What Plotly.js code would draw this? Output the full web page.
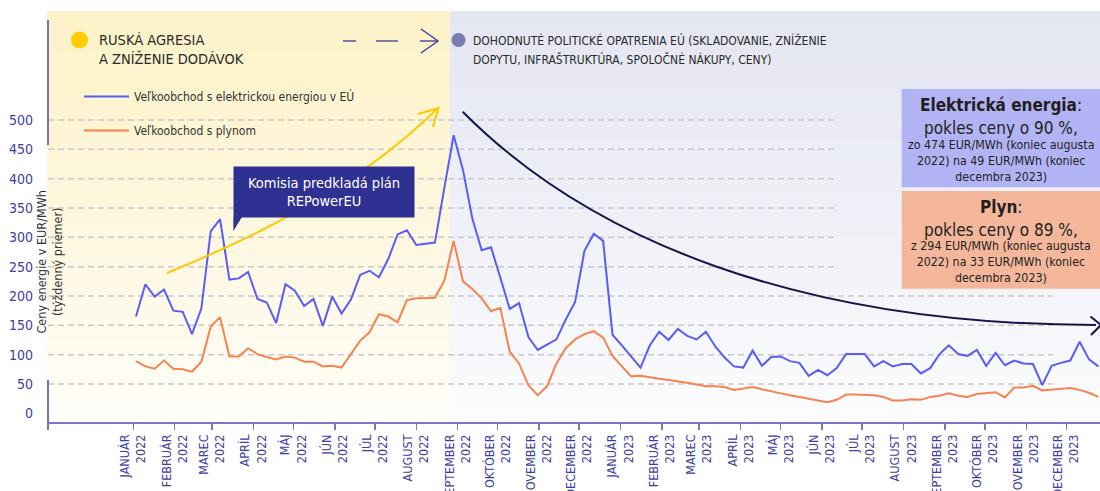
<!DOCTYPE html>
<html><head><meta charset="utf-8">
<script src="https://cdn.plot.ly/plotly-3.0.1.min.js"></script>
<style>html,body{margin:0;padding:0;background:#fff}#chart{width:1100px;height:491px}</style>
</head><body><div id="chart"></div>
<script>
// ---------- data ----------
const monthNames = ['JANUÁR','FEBRUÁR','MAREC','APRÍL','MÁJ','JÚN','JÚL','AUGUST','SEPTEMBER','OKTÓBER','NOVEMBER','DECEMBER'];
const years = ['2022','2023'];
const firstWeek = '2022-01-03';
const seriesNames = ['Veľkoobchod s elektrickou energiou v EÚ', 'Veľkoobchod s plynom'];
const electricity = [
  165,220,199,211,175,173,135,179,310,331,
  228,230,241,195,189,154,220,209,183,195,
  149,199,170,194,236,243,232,263,305,312,
  287,289,291,384,474,415,332,278,283,231,
  178,188,130,108,117,126,160,190,277,306,
  294,134,116,97,78,116,139,125,144,132,
  126,139,114,95,80,78,107,81,96,97,
  89,86,64,74,65,77,101,101,101,80,
  89,80,84,84,68,77,101,116,101,98,
  108,81,103,82,90,85,84,48,81,86,
  90,122,92,80
];
const gas = [
  89,80,76,90,76,75,71,88,148,164,
  97,97,111,101,96,92,97,95,88,88,
  80,81,78,102,124,138,169,165,155,193,
  196,196,197,226,294,225,212,196,174,180,
  105,85,48,31,46,85,111,126,135,140,
  129,98,80,63,64,61,59,57,55,52,
  49,46,46,45,40,42,45,41,37,34,
  31,28,25,22,19,23,32,32,32,31,
  28,22,22,24,23,28,30,34,30,28,
  33,34,36,27,44,44,47,39,40,42,
  43,40,35,28
];
const yTicks = [0,50,100,150,200,250,300,350,400,450,500];
const yTitle = 'Ceny energie v EUR/MWh<br>(týždenný priemer)';
const phase1 = 'RUSKÁ AGRESIA<br>A ZNÍŽENIE DODÁVOK';
const phase2 = ['DOHODNUTÉ POLITICKÉ OPATRENIA EÚ (SKLADOVANIE, ZNÍŽENIE', 'DOPYTU, INFRAŠTRUKTÚRA, SPOLOČNÉ NÁKUPY, CENY)'];
const calloutText = 'Komisia predkladá plán<br>REPowerEU';
const boxElec = ['<b>Elektrická energia</b>:', 'pokles ceny o 90 %,', 'zo 474 EUR/MWh (koniec augusta<br>2022) na 49 EUR/MWh (koniec<br>decembra 2023)'];
const boxGas = ['<b>Plyn</b>:', 'pokles ceny o 89 %,', 'z 294 EUR/MWh (koniec augusta<br>2022) na 33 EUR/MWh (koniec<br>decembra 2023)'];

// ---------- derived categories ----------
const weeks = [];
const t0 = Date.parse(firstWeek + 'T00:00:00Z');
for (let i = 0; i < electricity.length; i++) weeks.push(new Date(t0 + i * 7 * 86400000).toISOString().slice(0, 10));
const tickVals = [], tickText = [];
years.forEach(y => monthNames.forEach((m, i) => {
  tickVals.push(`${y}-${String(i + 1).padStart(2, '0')}-01`);
  tickText.push(`${m}<br>${y}`);
}));

// ---------- layout helpers (pixel -> paper) ----------
const W = 1100, H = 491, ML = 48, MR = 0, MT = 11, MB = 69;
const PW = W - ML - MR, PH = H - MT - MB;
const px = x => (x - ML) / PW;
const py = y => (H - MB - y) / PH;
const FONT = "'Liberation Sans Narrow', 'DejaVu Sans Condensed', Roboto, sans-serif";
const TXT = '#2a2a2a', AX = '#3d3da0';

const shapes = [];
function mix(c, t) {
  const r = parseInt(c.slice(1, 3), 16), g = parseInt(c.slice(3, 5), 16), b = parseInt(c.slice(5, 7), 16);
  const f = v => Math.round(v + (255 - v) * t);
  return `rgb(${f(r)},${f(g)},${f(b)})`;
}
function bands(x0, x1, col) {
  const n = 60, top = MT, h = PH / n;
  for (let j = 0; j < n; j++) {
    const y0 = top + j * h;
    shapes.push({type: 'rect', xref: 'paper', yref: 'paper', layer: 'below',
      x0: px(x0), x1: px(x1), y0: py(y0 + h + 0.6), y1: py(y0),
      fillcolor: mix(col, 0.9 * Math.pow((j + 0.5) / n, 1.15)), line: {width: 0}});
  }
}
bands(47, 450, '#fdf2c8');
bands(450, 1100, '#e4e6f2');
// dashed gridlines
yTicks.filter(v => v > 0).forEach(v => {
  shapes.push({type: 'line', xref: 'paper', yref: 'y', layer: 'below',
    x0: 0, x1: px(v >= 250 ? 838 : 1053), y0: v, y1: v,
    line: {color: '#c9c9cc', width: 1.5, dash: '6px,4px'}});
});
// y axis line pieces
const axc = '#7373b6';
shapes.push({type: 'line', xref: 'paper', yref: 'paper', x0: px(48), x1: px(48), y0: py(20), y1: py(145), line: {color: axc, width: 2}});
shapes.push({type: 'line', xref: 'paper', yref: 'paper', x0: px(48), x1: px(48), y0: py(380), y1: py(430), line: {color: axc, width: 2}});
// phase markers
shapes.push({type: 'circle', xref: 'paper', yref: 'paper', x0: px(71), x1: px(88), y0: py(48.5), y1: py(31.5), fillcolor: '#ffcc00', line: {width: 0}});
shapes.push({type: 'circle', xref: 'paper', yref: 'paper', x0: px(451.5), x1: px(465.5), y0: py(47), y1: py(33), fillcolor: '#7c7cae', line: {width: 0}});
// dashed arrow in header
const hd = '#3a3a9a';
[[343, 356], [376, 398], [420, 438]].forEach(([a, b]) => shapes.push({type: 'line', xref: 'paper', yref: 'paper', x0: px(a), x1: px(b), y0: py(41), y1: py(41), line: {color: hd, width: 1.3}}));
shapes.push({type: 'path', xref: 'paper', yref: 'paper', path: `M${px(421)},${py(29)} L${px(438)},${py(41)} L${px(421)},${py(53)}`, line: {color: hd, width: 1.3}});
// yellow growth arrow
const ya = '#ffc800';
shapes.push({type: 'path', xref: 'paper', yref: 'paper', path: `M${px(167)},${py(273)} C${px(260)},${py(235)} ${px(360)},${py(185)} ${px(438)},${py(108)}`, line: {color: ya, width: 2}});
shapes.push({type: 'path', xref: 'paper', yref: 'paper', path: `M${px(418)},${py(114)} L${px(438.5)},${py(108)} L${px(433)},${py(127)}`, line: {color: ya, width: 2}});
// navy decline arrow
const nv = '#15154a';
shapes.push({type: 'path', xref: 'paper', yref: 'paper', path: `M${px(462.7)},${py(111.7)} C${px(590)},${py(240)} ${px(800)},${py(325)} ${px(1096)},${py(325)}`, line: {color: nv, width: 2}});
shapes.push({type: 'path', xref: 'paper', yref: 'paper', path: `M${px(1090.5)},${py(316.5)} L${px(1101)},${py(325)} L${px(1091)},${py(335)}`, line: {color: nv, width: 2}});
// callout pointer
shapes.push({type: 'path', xref: 'paper', yref: 'paper', path: `M${px(233.3)},${py(217)} L${px(242)},${py(217)} L${px(233.3)},${py(231)} Z`, fillcolor: '#2e3192', line: {width: 0}});
// info boxes
shapes.push({type: 'rect', xref: 'paper', yref: 'paper', x0: px(901.7), x1: px(1100), y0: py(187.3), y1: py(89), fillcolor: '#b2b3f4', line: {width: 0}});
shapes.push({type: 'rect', xref: 'paper', yref: 'paper', x0: px(901.7), x1: px(1100), y0: py(288.7), y1: py(191), fillcolor: '#f4b79c', line: {width: 0}});

const ann = (text, x, y, o = {}) => Object.assign({text, xref: 'paper', yref: 'paper', x: px(x), y: py(y), showarrow: false,
  xanchor: 'center', yanchor: 'middle', font: {family: FONT, size: 12, color: TXT}}, o);
const bx = 1000.8;
const annotations = [
  ann(phase1, 97, 49, {xanchor: 'left', align: 'left', font: {family: FONT, size: 14.5, color: TXT}}),
  ann(phase2[0], 471, 40.5, {xanchor: 'left', align: 'left', font: {family: FONT, size: 12, color: TXT}}),
  ann(phase2[1], 471, 59.5, {xanchor: 'left', align: 'left', font: {family: FONT, size: 12, color: TXT}}),
  ann(calloutText, 323.7, 192.2, {width: 180, height: 50, bgcolor: '#2e3192', borderpad: 0, font: {family: FONT, size: 14.5, color: '#ffffff'}}),
  ann(yTitle, 48.5, 262, {textangle: -90, font: {family: FONT, size: 12.5, color: '#333333'}}),
  ann(boxElec[0], bx, 105, {font: {family: FONT, size: 17, color: '#231f20'}}),
  ann(boxElec[1], bx, 128.3, {font: {family: FONT, size: 17, color: '#231f20'}}),
  ann(boxElec[2], bx, 161.3, {font: {family: FONT, size: 12.3, color: '#231f20'}}),
  ann(boxGas[0], bx, 207, {font: {family: FONT, size: 17, color: '#231f20'}}),
  ann(boxGas[1], bx, 230, {font: {family: FONT, size: 17, color: '#231f20'}}),
  ann(boxGas[2], bx, 262, {font: {family: FONT, size: 12.3, color: '#231f20'}})
];

const traces = [
  {x: weeks, y: electricity, name: seriesNames[0], legendgroup: 'e', type: 'scatter', mode: 'lines', line: {color: '#5b5bf6', width: 2}},
  {x: weeks, y: gas, name: seriesNames[1], legendgroup: 'g', type: 'scatter', mode: 'lines', line: {color: '#f5834f', width: 2}}
];

const vPerPx = 450 / 264;
const layout = {
  width: W, height: H,
  margin: {l: ML, r: MR, t: MT, b: MB, pad: 0},
  paper_bgcolor: '#ffffff', plot_bgcolor: 'rgba(0,0,0,0)',
  font: {family: FONT, color: TXT},
  showlegend: true,
  legend: {x: px(79), y: py(82), xanchor: 'left', yanchor: 'top', bgcolor: 'rgba(0,0,0,0)', itemwidth: 45,
    font: {family: FONT, size: 12, color: '#333333'}, traceorder: 'grouped', tracegroupgap: 15},
  xaxis: {type: 'date', range: ['2021-10-29 02:00', '2023-12-26 06:00'], tickmode: 'array', tickvals: tickVals, ticktext: tickText,
    tickangle: -90, ticks: 'outside', ticklen: 6, tickwidth: 1.5, tickcolor: '#7777c8',
    showline: true, linecolor: '#7777c8', linewidth: 1.5, showgrid: false, zeroline: false,
    tickfont: {family: FONT, size: 12.5, color: AX}, fixedrange: true},
  yaxis: {range: [500 - (H - MB - 120) * vPerPx, 500 + (120 - MT) * vPerPx], tickmode: 'array', tickvals: yTicks,
    ticktext: yTicks.map(String), ticks: '', showgrid: false, zeroline: false, showline: false,
    ticklabelstandoff: 14, tickfont: {family: FONT, size: 14, color: AX}, fixedrange: true},
  shapes, annotations
};
Plotly.newPlot('chart', traces, layout, {displayModeBar: false, staticPlot: true});
</script></body></html>
